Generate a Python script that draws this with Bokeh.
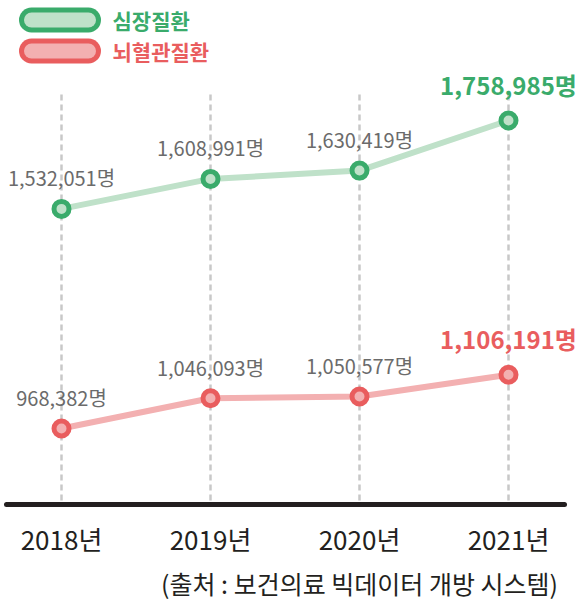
from bokeh.plotting import figure
from bokeh.models import Range1d, ColumnDataSource
from bokeh.core.properties import value
from bokeh.embed import file_html
from bokeh.resources import INLINE

# ---- data ----
years = ["2018년", "2019년", "2020년", "2021년"]
heart = [1532051, 1608991, 1630419, 1758985]
stroke = [968382, 1046093, 1050577, 1106191]
series_names = ["심장질환", "뇌혈관질환"]
source_note = "(출처 : 보건의료 빅데이터 개방 시스템)"

# ---- styling ----
FONT = value("Noto Sans CJK KR")
G_DARK, G_LIGHT = "#3aab6b", "#bfe1c9"
R_DARK, R_LIGHT = "#e95d5e", "#f3b0b1"
LABEL_GRAY = "#6b6b6b"
INK = "#231f20"

W, H = 578, 600
PX_PER_X = 149.0          # pixels per category step
X0_PX = 61.0              # px of first category
UNITS_PER_PX = 2567.0     # data units per vertical pixel
Y_REF_VAL, Y_REF_PX = heart[-1], 120.0   # anchor: value at px

x_start = -X0_PX / PX_PER_X
x_end = x_start + W / PX_PER_X
y_top = Y_REF_VAL + Y_REF_PX * UNITS_PER_PX
y_bot = y_top - H * UNITS_PER_PX

def dx(px):   # picture px -> data x
    return x_start + px / PX_PER_X

def dy(py):   # picture px -> data y
    return y_top - py * UNITS_PER_PX

p = figure(width=W, height=H, output_backend="svg", toolbar_location=None,
           x_range=Range1d(x_start, x_end), y_range=Range1d(y_bot, y_top),
           x_axis_type=None, y_axis_type=None, min_border=0,
           outline_line_color=None, background_fill_color="white",
           border_fill_color="white")
p.grid.visible = False

idx = list(range(len(years)))

# vertical dashed guides
p.segment(x0=idx, x1=idx, y0=[dy(94)] * len(idx), y1=[dy(504)] * len(idx),
          line_color="#c8c8c8", line_width=2.5, line_dash="6 4")

# baseline
p.segment(x0=[dx(6)], x1=[dx(564)], y0=[dy(504)], y1=[dy(504)],
          line_color=INK, line_width=5, line_cap="round")

# lines + markers
for vals, dark, light in [(heart, G_DARK, G_LIGHT), (stroke, R_DARK, R_LIGHT)]:
    p.line(idx, vals, line_color=light, line_width=6)
    p.scatter(idx, vals, size=15, fill_color=light, line_color=dark, line_width=5)

# value labels
for vals, dark in [(heart, G_DARK), (stroke, R_DARK)]:
    txt = [f"{v:,}명" for v in vals]
    src = ColumnDataSource(dict(x=idx[:-1], y=vals[:-1], t=txt[:-1]))
    p.text("x", "y", text="t", source=src, text_font=FONT, text_font_size="20px",
           text_color=LABEL_GRAY, text_align="center", text_baseline="middle",
           y_offset=-31)
    p.text([idx[-1]], [vals[-1]], text=[txt[-1]], text_font=FONT,
           text_font_size="24px", text_font_style="bold", text_color=dark,
           text_align="center", text_baseline="middle", y_offset=-36)

# legend (pills)
for name, dark, light, py in [(series_names[0], G_DARK, G_LIGHT, 19.5),
                              (series_names[1], R_DARK, R_LIGHT, 50.5)]:
    p.segment(x0=[dx(31)], x1=[dx(88)], y0=[dy(py)], y1=[dy(py)],
              line_color=dark, line_width=25, line_cap="round")
    p.segment(x0=[dx(31)], x1=[dx(88)], y0=[dy(py)], y1=[dy(py)],
              line_color=light, line_width=15, line_cap="round")
    p.text([dx(112)], [dy(py)], text=[name], text_font=FONT, text_font_size="21px",
           text_font_style="bold", text_color=dark, text_align="left",
           text_baseline="middle")

# category labels
p.text(idx, [dy(538)] * len(idx), text=years, text_font=FONT, text_font_size="26px",
       text_color=INK, text_align="center", text_baseline="middle")

# source note
p.text([dx(359)], [dy(582)], text=[source_note], text_font=FONT,
       text_font_size="25px", text_color=INK, text_align="center",
       text_baseline="middle")

open("out.html", "w").write(file_html(p, INLINE))
